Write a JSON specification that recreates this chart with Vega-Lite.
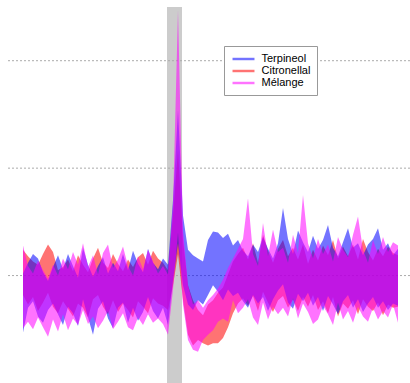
{
  "$schema": "https://vega.github.io/schema/vega-lite/v6.json",
  "width": 403,
  "height": 376,
  "autosize": "none",
  "padding": {"left": 7, "top": 7, "right": 0, "bottom": 0},
  "background": "white",
  "config": {"view": {"stroke": null}},
  "datasets": {
    "stim": [{"start": 28.8, "end": 31.8}],
    "grid": [{"v": 0}, {"v": 10}, {"v": 20}],
    "traces": [
      {"frame":0,"odor":"Terpineol","hi":0.2,"lo":-5.3},{"frame":1,"odor":"Terpineol","hi":1.2,"lo":-3.0},{"frame":2,"odor":"Terpineol","hi":2.0,"lo":-2.4},{"frame":3,"odor":"Terpineol","hi":1.6,"lo":-3.8},{"frame":4,"odor":"Terpineol","hi":0.3,"lo":-4.4},{"frame":5,"odor":"Terpineol","hi":-0.5,"lo":-3.2},{"frame":6,"odor":"Terpineol","hi":0.8,"lo":-2.6},{"frame":7,"odor":"Terpineol","hi":1.9,"lo":-3.6},{"frame":8,"odor":"Terpineol","hi":0.6,"lo":-4.6},{"frame":9,"odor":"Terpineol","hi":2.0,"lo":-2.9},
      {"frame":10,"odor":"Terpineol","hi":0.9,"lo":-3.5},{"frame":11,"odor":"Terpineol","hi":-0.2,"lo":-4.7},{"frame":12,"odor":"Terpineol","hi":2.6,"lo":-2.2},{"frame":13,"odor":"Terpineol","hi":1.0,"lo":-3.9},{"frame":14,"odor":"Terpineol","hi":-0.1,"lo":-5.5},{"frame":15,"odor":"Terpineol","hi":0.9,"lo":-3.1},{"frame":16,"odor":"Terpineol","hi":1.7,"lo":-2.4},{"frame":17,"odor":"Terpineol","hi":0.2,"lo":-4.0},{"frame":18,"odor":"Terpineol","hi":1.2,"lo":-4.9},{"frame":19,"odor":"Terpineol","hi":0.4,"lo":-3.0},
      {"frame":20,"odor":"Terpineol","hi":2.0,"lo":-2.5},{"frame":21,"odor":"Terpineol","hi":0.5,"lo":-4.4},{"frame":22,"odor":"Terpineol","hi":2.3,"lo":-3.0},{"frame":23,"odor":"Terpineol","hi":1.1,"lo":-4.2},{"frame":24,"odor":"Terpineol","hi":0.3,"lo":-3.4},{"frame":25,"odor":"Terpineol","hi":2.5,"lo":-2.0},{"frame":26,"odor":"Terpineol","hi":1.2,"lo":-3.3},{"frame":27,"odor":"Terpineol","hi":0.6,"lo":-4.0},{"frame":28,"odor":"Terpineol","hi":1.6,"lo":-3.0},{"frame":29,"odor":"Terpineol","hi":1.0,"lo":-4.6},
      {"frame":30,"odor":"Terpineol","hi":7.0,"lo":-0.4},{"frame":31,"odor":"Terpineol","hi":15.4,"lo":3.0},{"frame":32,"odor":"Terpineol","hi":5.6,"lo":-0.9},{"frame":33,"odor":"Terpineol","hi":2.4,"lo":-2.7},{"frame":34,"odor":"Terpineol","hi":1.9,"lo":-3.2},{"frame":35,"odor":"Terpineol","hi":1.6,"lo":-2.3},{"frame":36,"odor":"Terpineol","hi":1.3,"lo":-2.7},{"frame":37,"odor":"Terpineol","hi":3.3,"lo":-1.8},{"frame":38,"odor":"Terpineol","hi":4.1,"lo":-0.9},{"frame":39,"odor":"Terpineol","hi":4.0,"lo":-1.5},
      {"frame":40,"odor":"Terpineol","hi":3.5,"lo":-2.3},{"frame":41,"odor":"Terpineol","hi":3.9,"lo":-1.3},{"frame":42,"odor":"Terpineol","hi":2.8,"lo":-1.9},{"frame":43,"odor":"Terpineol","hi":3.3,"lo":-1.6},{"frame":44,"odor":"Terpineol","hi":2.3,"lo":-2.4},{"frame":45,"odor":"Terpineol","hi":1.8,"lo":-3.0},{"frame":46,"odor":"Terpineol","hi":2.9,"lo":-1.8},{"frame":47,"odor":"Terpineol","hi":2.2,"lo":-2.6},{"frame":48,"odor":"Terpineol","hi":3.6,"lo":-2.0},{"frame":49,"odor":"Terpineol","hi":2.5,"lo":-3.3},
      {"frame":50,"odor":"Terpineol","hi":1.6,"lo":-2.2},{"frame":51,"odor":"Terpineol","hi":3.0,"lo":-1.4},{"frame":52,"odor":"Terpineol","hi":6.3,"lo":-0.8},{"frame":53,"odor":"Terpineol","hi":3.4,"lo":-2.5},{"frame":54,"odor":"Terpineol","hi":2.0,"lo":-3.1},{"frame":55,"odor":"Terpineol","hi":4.2,"lo":-1.7},{"frame":56,"odor":"Terpineol","hi":3.1,"lo":-2.4},{"frame":57,"odor":"Terpineol","hi":2.2,"lo":-1.6},{"frame":58,"odor":"Terpineol","hi":3.7,"lo":-2.8},{"frame":59,"odor":"Terpineol","hi":2.5,"lo":-2.0},
      {"frame":60,"odor":"Terpineol","hi":3.3,"lo":-3.3},{"frame":61,"odor":"Terpineol","hi":4.7,"lo":-1.9},{"frame":62,"odor":"Terpineol","hi":2.6,"lo":-2.7},{"frame":63,"odor":"Terpineol","hi":1.8,"lo":-3.6},{"frame":64,"odor":"Terpineol","hi":3.1,"lo":-2.4},{"frame":65,"odor":"Terpineol","hi":4.4,"lo":-1.8},{"frame":66,"odor":"Terpineol","hi":2.6,"lo":-3.0},{"frame":67,"odor":"Terpineol","hi":3.0,"lo":-2.2},{"frame":68,"odor":"Terpineol","hi":1.9,"lo":-3.4},{"frame":69,"odor":"Terpineol","hi":2.9,"lo":-2.6},
      {"frame":70,"odor":"Terpineol","hi":3.4,"lo":-2.0},{"frame":71,"odor":"Terpineol","hi":4.4,"lo":-3.0},{"frame":72,"odor":"Terpineol","hi":2.4,"lo":-2.4},{"frame":73,"odor":"Terpineol","hi":3.0,"lo":-3.2},{"frame":74,"odor":"Terpineol","hi":1.9,"lo":-2.6},{"frame":75,"odor":"Terpineol","hi":2.5,"lo":-2.8},

      {"frame":0,"odor":"Citronellal","hi":2.4,"lo":-1.8},{"frame":1,"odor":"Citronellal","hi":1.8,"lo":-2.7},{"frame":2,"odor":"Citronellal","hi":1.3,"lo":-2.0},{"frame":3,"odor":"Citronellal","hi":1.0,"lo":-3.3},{"frame":4,"odor":"Citronellal","hi":2.0,"lo":-2.5},{"frame":5,"odor":"Citronellal","hi":2.9,"lo":-1.6},{"frame":6,"odor":"Citronellal","hi":2.2,"lo":-2.9},{"frame":7,"odor":"Citronellal","hi":0.5,"lo":-3.5},{"frame":8,"odor":"Citronellal","hi":0.8,"lo":-2.4},{"frame":9,"odor":"Citronellal","hi":1.5,"lo":-3.1},
      {"frame":10,"odor":"Citronellal","hi":0.4,"lo":-3.8},{"frame":11,"odor":"Citronellal","hi":1.9,"lo":-2.6},{"frame":12,"odor":"Citronellal","hi":1.0,"lo":-3.0},{"frame":13,"odor":"Citronellal","hi":0.3,"lo":-3.9},{"frame":14,"odor":"Citronellal","hi":1.6,"lo":-2.2},{"frame":15,"odor":"Citronellal","hi":2.6,"lo":-1.8},{"frame":16,"odor":"Citronellal","hi":1.2,"lo":-2.9},{"frame":17,"odor":"Citronellal","hi":0.7,"lo":-3.6},{"frame":18,"odor":"Citronellal","hi":2.0,"lo":-2.3},{"frame":19,"odor":"Citronellal","hi":1.1,"lo":-3.4},
      {"frame":20,"odor":"Citronellal","hi":0.4,"lo":-2.6},{"frame":21,"odor":"Citronellal","hi":1.5,"lo":-3.2},{"frame":22,"odor":"Citronellal","hi":0.8,"lo":-3.9},{"frame":23,"odor":"Citronellal","hi":1.7,"lo":-2.4},{"frame":24,"odor":"Citronellal","hi":2.1,"lo":-2.9},{"frame":25,"odor":"Citronellal","hi":1.0,"lo":-3.5},{"frame":26,"odor":"Citronellal","hi":2.3,"lo":-2.1},{"frame":27,"odor":"Citronellal","hi":1.6,"lo":-2.6},{"frame":28,"odor":"Citronellal","hi":1.2,"lo":-2.8},{"frame":29,"odor":"Citronellal","hi":0.5,"lo":-3.2},
      {"frame":30,"odor":"Citronellal","hi":5.6,"lo":-0.9},{"frame":31,"odor":"Citronellal","hi":11.7,"lo":2.0},{"frame":32,"odor":"Citronellal","hi":3.3,"lo":-2.3},{"frame":33,"odor":"Citronellal","hi":-0.9,"lo":-5.5},{"frame":34,"odor":"Citronellal","hi":-2.3,"lo":-6.5},{"frame":35,"odor":"Citronellal","hi":-3.2,"lo":-6.0},{"frame":36,"odor":"Citronellal","hi":-3.7,"lo":-6.3},{"frame":37,"odor":"Citronellal","hi":-2.7,"lo":-6.5},{"frame":38,"odor":"Citronellal","hi":-2.3,"lo":-6.3},{"frame":39,"odor":"Citronellal","hi":-1.6,"lo":-6.3},
      {"frame":40,"odor":"Citronellal","hi":-1.1,"lo":-5.8},{"frame":41,"odor":"Citronellal","hi":0.1,"lo":-4.8},{"frame":42,"odor":"Citronellal","hi":1.3,"lo":-3.5},{"frame":43,"odor":"Citronellal","hi":2.0,"lo":-2.6},{"frame":44,"odor":"Citronellal","hi":2.6,"lo":-2.1},{"frame":45,"odor":"Citronellal","hi":1.5,"lo":-2.8},{"frame":46,"odor":"Citronellal","hi":3.0,"lo":-1.9},{"frame":47,"odor":"Citronellal","hi":1.2,"lo":-3.3},{"frame":48,"odor":"Citronellal","hi":3.8,"lo":-1.5},{"frame":49,"odor":"Citronellal","hi":2.3,"lo":-2.5},
      {"frame":50,"odor":"Citronellal","hi":1.2,"lo":-3.4},{"frame":51,"odor":"Citronellal","hi":2.5,"lo":-2.3},{"frame":52,"odor":"Citronellal","hi":3.3,"lo":-1.9},{"frame":53,"odor":"Citronellal","hi":1.8,"lo":-3.0},{"frame":54,"odor":"Citronellal","hi":2.6,"lo":-2.2},{"frame":55,"odor":"Citronellal","hi":1.5,"lo":-3.3},{"frame":56,"odor":"Citronellal","hi":2.9,"lo":-2.0},{"frame":57,"odor":"Citronellal","hi":1.1,"lo":-2.9},{"frame":58,"odor":"Citronellal","hi":2.4,"lo":-1.8},{"frame":59,"odor":"Citronellal","hi":1.4,"lo":-3.2},
      {"frame":60,"odor":"Citronellal","hi":2.8,"lo":-2.4},{"frame":61,"odor":"Citronellal","hi":1.9,"lo":-3.5},{"frame":62,"odor":"Citronellal","hi":3.3,"lo":-2.0},{"frame":63,"odor":"Citronellal","hi":1.6,"lo":-3.8},{"frame":64,"odor":"Citronellal","hi":2.7,"lo":-2.6},{"frame":65,"odor":"Citronellal","hi":1.8,"lo":-3.1},{"frame":66,"odor":"Citronellal","hi":2.9,"lo":-2.3},{"frame":67,"odor":"Citronellal","hi":1.5,"lo":-3.6},{"frame":68,"odor":"Citronellal","hi":3.4,"lo":-2.2},{"frame":69,"odor":"Citronellal","hi":2.2,"lo":-2.9},
      {"frame":70,"odor":"Citronellal","hi":1.4,"lo":-3.3},{"frame":71,"odor":"Citronellal","hi":2.5,"lo":-2.5},{"frame":72,"odor":"Citronellal","hi":1.8,"lo":-3.7},{"frame":73,"odor":"Citronellal","hi":2.7,"lo":-2.7},{"frame":74,"odor":"Citronellal","hi":2.1,"lo":-3.0},{"frame":75,"odor":"Citronellal","hi":1.9,"lo":-2.9},

      {"frame":0,"odor":"Mélange","hi":2.8,"lo":-4.9},{"frame":1,"odor":"Mélange","hi":0.9,"lo":-4.3},{"frame":2,"odor":"Mélange","hi":0.2,"lo":-5.0},{"frame":3,"odor":"Mélange","hi":1.4,"lo":-3.9},{"frame":4,"odor":"Mélange","hi":0.5,"lo":-4.8},{"frame":5,"odor":"Mélange","hi":-0.3,"lo":-5.7},{"frame":6,"odor":"Mélange","hi":1.0,"lo":-4.1},{"frame":7,"odor":"Mélange","hi":0.0,"lo":-5.2},{"frame":8,"odor":"Mélange","hi":1.6,"lo":-3.6},{"frame":9,"odor":"Mélange","hi":0.6,"lo":-5.1},
      {"frame":10,"odor":"Mélange","hi":2.2,"lo":-4.0},{"frame":11,"odor":"Mélange","hi":1.0,"lo":-4.6},{"frame":12,"odor":"Mélange","hi":3.0,"lo":-3.2},{"frame":13,"odor":"Mélange","hi":0.8,"lo":-4.5},{"frame":14,"odor":"Mélange","hi":1.9,"lo":-3.8},{"frame":15,"odor":"Mélange","hi":0.1,"lo":-4.9},{"frame":16,"odor":"Mélange","hi":2.1,"lo":-4.2},{"frame":17,"odor":"Mélange","hi":2.9,"lo":-3.3},{"frame":18,"odor":"Mélange","hi":0.7,"lo":-5.0},{"frame":19,"odor":"Mélange","hi":1.5,"lo":-4.3},
      {"frame":20,"odor":"Mélange","hi":2.7,"lo":-3.5},{"frame":21,"odor":"Mélange","hi":0.9,"lo":-4.8},{"frame":22,"odor":"Mélange","hi":0.0,"lo":-5.1},{"frame":23,"odor":"Mélange","hi":1.8,"lo":-3.9},{"frame":24,"odor":"Mélange","hi":0.6,"lo":-4.6},{"frame":25,"odor":"Mélange","hi":2.4,"lo":-3.6},{"frame":26,"odor":"Mélange","hi":1.3,"lo":-4.4},{"frame":27,"odor":"Mélange","hi":0.2,"lo":-4.0},{"frame":28,"odor":"Mélange","hi":0.9,"lo":-4.5},{"frame":29,"odor":"Mélange","hi":0.1,"lo":-5.5},
      {"frame":30,"odor":"Mélange","hi":6.6,"lo":-1.3},{"frame":31,"odor":"Mélange","hi":24.7,"lo":4.0},{"frame":32,"odor":"Mélange","hi":4.2,"lo":-2.7},{"frame":33,"odor":"Mélange","hi":-0.9,"lo":-6.0},{"frame":34,"odor":"Mélange","hi":-2.7,"lo":-6.9},{"frame":35,"odor":"Mélange","hi":-2.3,"lo":-7.1},{"frame":36,"odor":"Mélange","hi":-3.0,"lo":-6.0},{"frame":37,"odor":"Mélange","hi":-2.3,"lo":-5.5},{"frame":38,"odor":"Mélange","hi":-1.8,"lo":-5.1},{"frame":39,"odor":"Mélange","hi":-1.2,"lo":-4.3},
      {"frame":40,"odor":"Mélange","hi":-0.4,"lo":-4.0},{"frame":41,"odor":"Mélange","hi":0.7,"lo":-4.3},{"frame":42,"odor":"Mélange","hi":1.6,"lo":-2.3},{"frame":43,"odor":"Mélange","hi":2.5,"lo":-3.5},{"frame":44,"odor":"Mélange","hi":3.4,"lo":-3.0},{"frame":45,"odor":"Mélange","hi":7.2,"lo":-2.2},{"frame":46,"odor":"Mélange","hi":2.0,"lo":-3.9},{"frame":47,"odor":"Mélange","hi":0.9,"lo":-4.6},{"frame":48,"odor":"Mélange","hi":4.9,"lo":-2.5},{"frame":49,"odor":"Mélange","hi":1.8,"lo":-4.1},
      {"frame":50,"odor":"Mélange","hi":4.3,"lo":-2.9},{"frame":51,"odor":"Mélange","hi":2.2,"lo":-3.6},{"frame":52,"odor":"Mélange","hi":2.6,"lo":-3.0},{"frame":53,"odor":"Mélange","hi":1.2,"lo":-3.8},{"frame":54,"odor":"Mélange","hi":3.8,"lo":-2.1},{"frame":55,"odor":"Mélange","hi":2.1,"lo":-4.0},{"frame":56,"odor":"Mélange","hi":7.5,"lo":-2.6},{"frame":57,"odor":"Mélange","hi":3.0,"lo":-3.4},{"frame":58,"odor":"Mélange","hi":1.6,"lo":-4.5},{"frame":59,"odor":"Mélange","hi":3.4,"lo":-4.1},
      {"frame":60,"odor":"Mélange","hi":2.0,"lo":-2.8},{"frame":61,"odor":"Mélange","hi":2.9,"lo":-3.6},{"frame":62,"odor":"Mélange","hi":1.3,"lo":-4.6},{"frame":63,"odor":"Mélange","hi":3.6,"lo":-2.5},{"frame":64,"odor":"Mélange","hi":2.4,"lo":-4.1},{"frame":65,"odor":"Mélange","hi":1.7,"lo":-3.3},{"frame":66,"odor":"Mélange","hi":3.8,"lo":-4.4},{"frame":67,"odor":"Mélange","hi":5.5,"lo":-2.9},{"frame":68,"odor":"Mélange","hi":2.4,"lo":-3.8},{"frame":69,"odor":"Mélange","hi":1.2,"lo":-4.3},
      {"frame":70,"odor":"Mélange","hi":3.3,"lo":-3.0},{"frame":71,"odor":"Mélange","hi":2.0,"lo":-4.1},{"frame":72,"odor":"Mélange","hi":3.6,"lo":-3.3},{"frame":73,"odor":"Mélange","hi":2.2,"lo":-3.9},{"frame":74,"odor":"Mélange","hi":3.1,"lo":-2.7},{"frame":75,"odor":"Mélange","hi":2.8,"lo":-4.4}
    ]
  },
  "layer": [
    {
      "data": {"name": "stim"},
      "mark": {"type": "rect", "color": "#cccccc"},
      "encoding": {
        "x": {"field": "start", "type": "quantitative", "scale": {"domain": [-3.2, 77.4], "nice": false, "zero": false}, "axis": null},
        "x2": {"field": "end"}
      }
    },
    {
      "data": {"name": "grid"},
      "mark": {"type": "rule", "color": "#aaaaaa", "strokeDash": [2, 2], "strokeWidth": 1},
      "encoding": {
        "y": {"field": "v", "type": "quantitative", "scale": {"domain": [-10, 25], "nice": false, "zero": false}, "axis": null}
      }
    },
    {
      "data": {"name": "traces"},
      "transform": [{"filter": "datum.odor === 'Citronellal'"}],
      "mark": {"type": "area", "opacity": 0.55, "interpolate": "linear"},
      "encoding": {
        "x": {"field": "frame", "type": "quantitative", "scale": {"domain": [-3.2, 77.4], "nice": false, "zero": false}, "axis": null},
        "y": {"field": "hi", "type": "quantitative", "scale": {"domain": [-10, 25], "nice": false, "zero": false}, "axis": null},
        "y2": {"field": "lo"},
        "color": {
          "field": "odor", "type": "nominal",
          "scale": {"domain": ["Terpineol", "Citronellal", "Mélange"], "range": ["#0000ff", "#ff0000", "#ff00ff"]},
          "legend": {
            "title": null, "orient": "none", "legendX": 217, "legendY": 39,
            "padding": 6.5, "fillColor": "white", "strokeColor": "#999999", "cornerRadius": 0,
            "symbolType": "M-0.69,-0.19H2.69V0.19H-0.69Z", "symbolSize": 169, "symbolStrokeWidth": 0, "symbolOpacity": 0.55,
            "rowPadding": 0, "labelOffset": 18,
            "labelFont": "Liberation Sans", "labelFontSize": 11, "labelColor": "#000000", "labelBaseline": "middle"
          }
        }
      }
    },
    {
      "data": {"name": "traces"},
      "transform": [{"filter": "datum.odor === 'Terpineol'"}],
      "mark": {"type": "area", "opacity": 0.55, "interpolate": "linear"},
      "encoding": {
        "x": {"field": "frame", "type": "quantitative", "scale": {"domain": [-3.2, 77.4], "nice": false, "zero": false}, "axis": null},
        "y": {"field": "hi", "type": "quantitative", "scale": {"domain": [-10, 25], "nice": false, "zero": false}, "axis": null},
        "y2": {"field": "lo"},
        "color": {"field": "odor", "type": "nominal"}
      }
    },
    {
      "data": {"name": "traces"},
      "transform": [{"filter": "datum.odor === 'Mélange'"}],
      "mark": {"type": "area", "opacity": 0.55, "interpolate": "linear"},
      "encoding": {
        "x": {"field": "frame", "type": "quantitative", "scale": {"domain": [-3.2, 77.4], "nice": false, "zero": false}, "axis": null},
        "y": {"field": "hi", "type": "quantitative", "scale": {"domain": [-10, 25], "nice": false, "zero": false}, "axis": null},
        "y2": {"field": "lo"},
        "color": {"field": "odor", "type": "nominal"}
      }
    }
  ]
}
